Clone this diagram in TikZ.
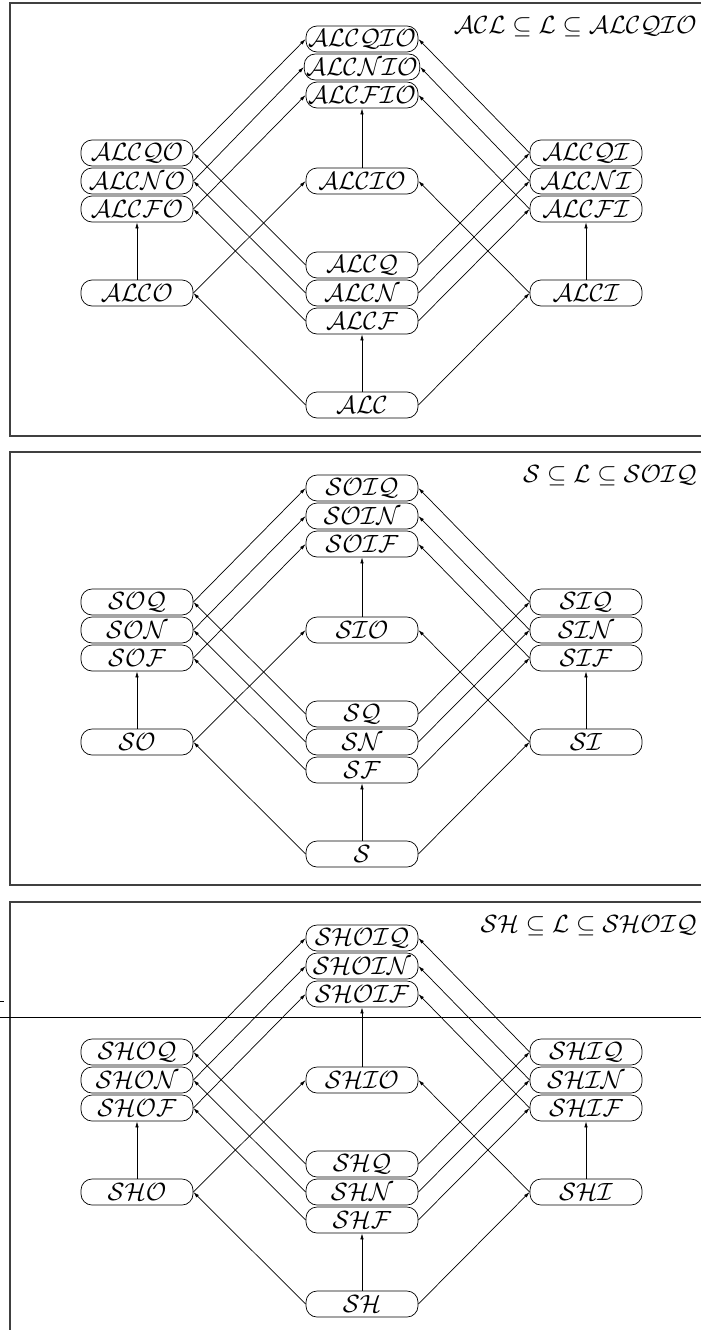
\documentclass[tikz,border=0pt]{standalone}
\usetikzlibrary{arrows.meta}
\newcommand\drawpanel[2]{% #1 name prefix, #2 vertical offset
\begin{scope}[shift={(0,#2)}]
  \draw[frame] (712,3) -- (10,3) -- (10,436) -- (712,436);
  \node[ttl] (#1title) at (697,27) {$\mathcal{\Ltitle}$};
  \node[box] (#1tq) at (362,39) {$\mathcal{\Ltq}$};
  \node[box] (#1tn) at (362,67) {$\mathcal{\Ltn}$};
  \node[box] (#1tf) at (362,95) {$\mathcal{\Ltf}$};
  \node[box] (#1lq) at (137,153) {$\mathcal{\Llq}$};
  \node[box] (#1ln) at (137,181) {$\mathcal{\Lln}$};
  \node[box] (#1lf) at (137,209) {$\mathcal{\Llf}$};
  \node[box] (#1mid) at (362,181) {$\mathcal{\Lmid}$};
  \node[box] (#1rq) at (586,153) {$\mathcal{\Lrq}$};
  \node[box] (#1rn) at (586,181) {$\mathcal{\Lrn}$};
  \node[box] (#1rf) at (586,209) {$\mathcal{\Lrf}$};
  \node[box] (#1bq) at (362,265) {$\mathcal{\Lbq}$};
  \node[box] (#1bn) at (362,293) {$\mathcal{\Lbn}$};
  \node[box] (#1bf) at (362,321) {$\mathcal{\Lbf}$};
  \node[box] (#1l) at (137,293) {$\mathcal{\Ll}$};
  \node[box] (#1r) at (586,293) {$\mathcal{\Lr}$};
  \node[box] (#1b) at (362,405) {$\mathcal{\Lb}$};
  % bottom level
  \draw[arr] (#1b.west) -- (#1l.east);
  \draw[arr] (#1b.east) -- (#1r.west);
  \draw[arr] (#1b.north) -- (#1bf.south);
  % O and I
  \draw[arr] (#1l.north) -- (#1lf.south);
  \draw[arr] (#1l.east) -- (#1mid.west);
  \draw[arr] (#1r.north) -- (#1rf.south);
  \draw[arr] (#1r.west) -- (#1mid.east);
  % F N Q
  \draw[arr] (#1bq.west) -- (#1lq.east);
  \draw[arr] (#1bn.west) -- (#1ln.east);
  \draw[arr] (#1bf.west) -- (#1lf.east);
  \draw[arr] (#1bq.east) -- (#1rq.west);
  \draw[arr] (#1bn.east) -- (#1rn.west);
  \draw[arr] (#1bf.east) -- (#1rf.west);
  % to top
  \draw[arr] (#1mid.north) -- (#1tf.south);
  \draw[arr] (#1lq.east) -- (#1tq.west);
  \draw[arr] (#1ln.east) -- (#1tn.west);
  \draw[arr] (#1lf.east) -- (#1tf.west);
  \draw[arr] (#1rq.west) -- (#1tq.east);
  \draw[arr] (#1rn.west) -- (#1tn.east);
  \draw[arr] (#1rf.west) -- (#1tf.east);
\end{scope}}
\begin{document}
\begin{tikzpicture}[x=1pt,y=-1pt,
  box/.style={draw,rounded corners=11pt,minimum width=112pt,minimum height=26pt,
    inner sep=2pt,font=\fontsize{24}{24}\selectfont,line width=0.7pt},
  arr/.style={-{Latex[length=6pt,width=3.5pt]},line width=0.7pt},
  frame/.style={line width=1.3pt,black!75},
  ttl/.style={anchor=east,inner sep=0pt,font=\fontsize{24}{24}\selectfont}]
\useasboundingbox (0,0) rectangle (701,1330);
\clip (0,0) rectangle (701,1330);
% panel 1
\def\Ltitle{ACL \subseteq L \subseteq ALCQIO}
\def\Ltq{ALCQIO}\def\Ltn{ALCNIO}\def\Ltf{ALCFIO}
\def\Llq{ALCQO}\def\Lln{ALCNO}\def\Llf{ALCFO}
\def\Lmid{ALCIO}
\def\Lrq{ALCQI}\def\Lrn{ALCNI}\def\Lrf{ALCFI}
\def\Lbq{ALCQ}\def\Lbn{ALCN}\def\Lbf{ALCF}
\def\Ll{ALCO}\def\Lr{ALCI}\def\Lb{ALC}
\drawpanel{a}{0}
% panel 2
\def\Ltitle{S \subseteq L \subseteq SOIQ}
\def\Ltq{SOIQ}\def\Ltn{SOIN}\def\Ltf{SOIF}
\def\Llq{SOQ}\def\Lln{SON}\def\Llf{SOF}
\def\Lmid{SIO}
\def\Lrq{SIQ}\def\Lrn{SIN}\def\Lrf{SIF}
\def\Lbq{SQ}\def\Lbn{SN}\def\Lbf{SF}
\def\Ll{SO}\def\Lr{SI}\def\Lb{S}
\drawpanel{b}{449}
% panel 3
\def\Ltitle{SH \subseteq L \subseteq SHOIQ}
\def\Ltq{SHOIQ}\def\Ltn{SHOIN}\def\Ltf{SHOIF}
\def\Llq{SHOQ}\def\Lln{SHON}\def\Llf{SHOF}
\def\Lmid{SHIO}
\def\Lrq{SHIQ}\def\Lrn{SHIN}\def\Lrf{SHIF}
\def\Lbq{SHQ}\def\Lbn{SHN}\def\Lbf{SHF}
\def\Ll{SHO}\def\Lr{SHI}\def\Lb{SH}
\drawpanel{c}{899}
% stray rule across the third panel
\coordinate (rl) at (0,1017);
\coordinate (rr) at (701,1017);
\draw[line width=1pt] (rl) -- (rr);
\coordinate (tl) at (0,1001);
\coordinate (tr) at (4,1001);
\draw[line width=0.8pt] (tl) -- (tr);
\end{tikzpicture}
\end{document}
